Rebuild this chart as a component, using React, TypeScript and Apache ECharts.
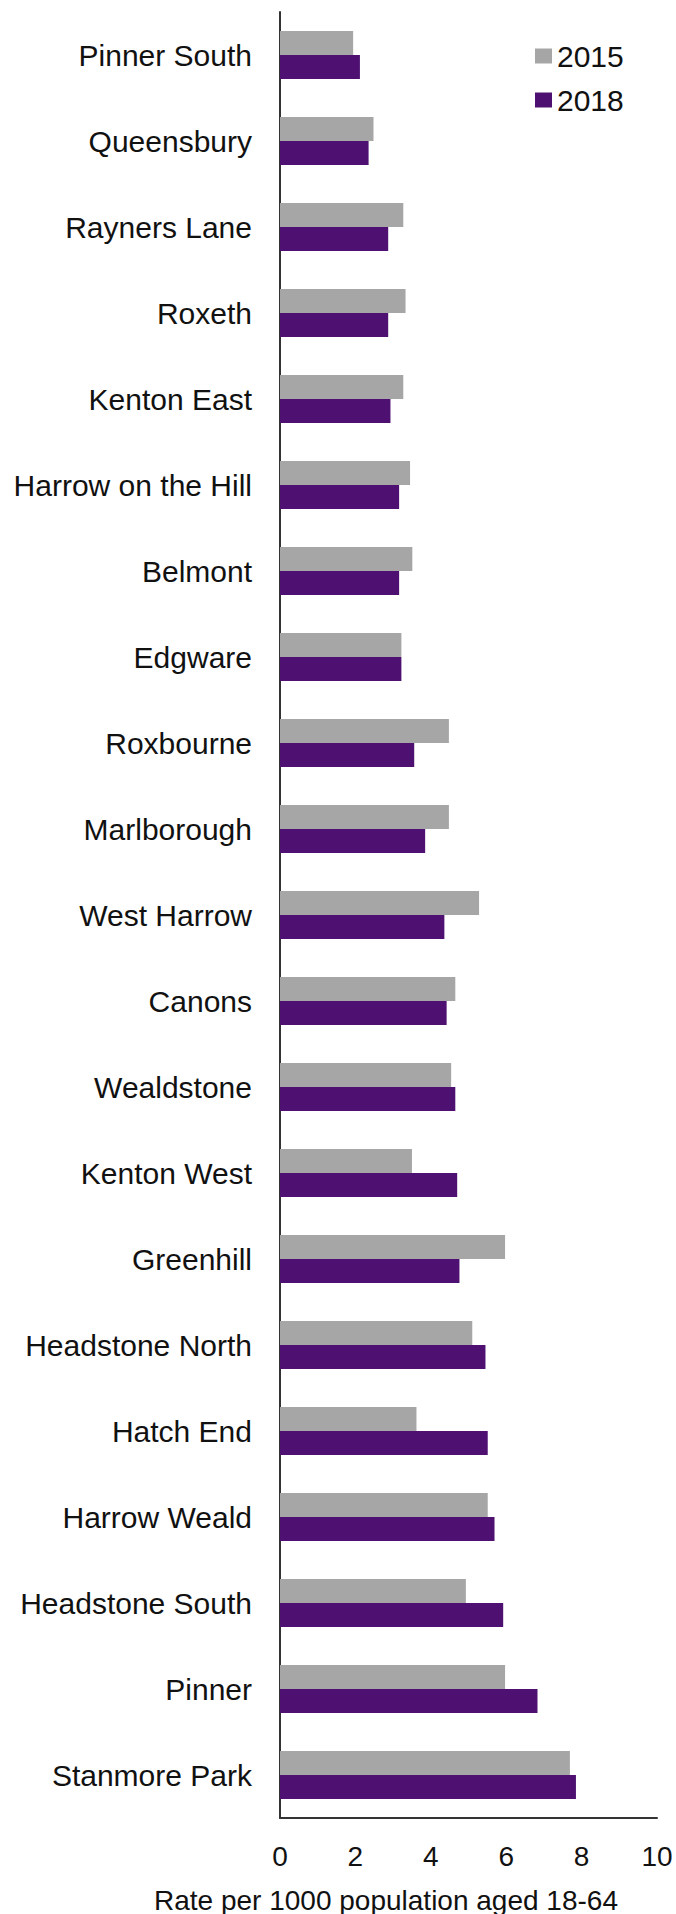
import React, { useEffect, useRef } from "react";
import * as echarts from "echarts";

const categories = [
  "Pinner South",
  "Queensbury",
  "Rayners Lane",
  "Roxeth",
  "Kenton East",
  "Harrow on the Hill",
  "Belmont",
  "Edgware",
  "Roxbourne",
  "Marlborough",
  "West Harrow",
  "Canons",
  "Wealdstone",
  "Kenton West",
  "Greenhill",
  "Headstone North",
  "Hatch End",
  "Harrow Weald",
  "Headstone South",
  "Pinner",
  "Stanmore Park",
];

const values2015 = [
  1.94, 2.48, 3.27, 3.33, 3.27, 3.45, 3.51, 3.22, 4.48, 4.48, 5.28, 4.65, 4.54,
  3.5, 5.97, 5.1, 3.62, 5.51, 4.93, 5.97, 7.69,
];

const values2018 = [
  2.12, 2.35, 2.87, 2.87, 2.93, 3.16, 3.16, 3.22, 3.56, 3.85, 4.36, 4.42, 4.65,
  4.7, 4.76, 5.45, 5.51, 5.69, 5.92, 6.83, 7.85,
];

const seriesNames = ["2015", "2018"];
const xAxisTitle = "Rate per 1000 population aged 18-64";

const FONT = "'Liberation Sans', Arial, sans-serif";

export default function App() {
  const ref = useRef<HTMLDivElement>(null);

  useEffect(() => {
    if (!ref.current) return;
    const chart = echarts.init(ref.current, undefined, { renderer: "svg" });
    chart.setOption({
      animation: false,
      backgroundColor: "#ffffff",
      textStyle: { fontFamily: FONT },
      legend: {
        orient: "vertical",
        left: 530,
        top: 36,
        itemWidth: 17,
        itemHeight: 15,
        itemGap: 14,
        icon: "rect",
        textStyle: { fontSize: 30, color: "#111", fontFamily: FONT },
        data: seriesNames,
      },
      grid: { left: 280, top: 12, width: 377, height: 1806 },
      xAxis: {
        type: "value",
        min: 0,
        max: 10,
        interval: 2,
        splitLine: { show: false },
        axisTick: { show: false },
        axisLine: { show: true, lineStyle: { color: "#333", width: 2 } },
        axisLabel: { fontSize: 28, color: "#111", margin: 24, fontFamily: FONT },
      },
      yAxis: {
        type: "category",
        inverse: true,
        data: categories,
        axisTick: { show: false },
        axisLine: { show: true, lineStyle: { color: "#333", width: 2 } },
        axisLabel: { fontSize: 30, color: "#111", margin: 28, fontFamily: FONT },
      },
      series: [
        {
          name: seriesNames[0],
          type: "bar",
          data: values2015,
          barWidth: 24,
          barGap: "0%",
          itemStyle: { color: "#A6A6A6" },
        },
        {
          name: seriesNames[1],
          type: "bar",
          data: values2018,
          barWidth: 24,
          barGap: "0%",
          itemStyle: { color: "#4E1172" },
        },
      ],
      graphic: [
        {
          type: "text",
          x: 386,
          y: 1900,
          style: {
            text: xAxisTitle,
            fontSize: 28,
            fontFamily: FONT,
            fill: "#111",
            textAlign: "center",
            textVerticalAlign: "middle",
          },
        },
      ],
    });
    return () => chart.dispose();
  }, []);

  return (
    <div
      ref={ref}
      style={{ position: "absolute", left: 0, top: 0, width: 676, height: 1914 }}
    />
  );
}
